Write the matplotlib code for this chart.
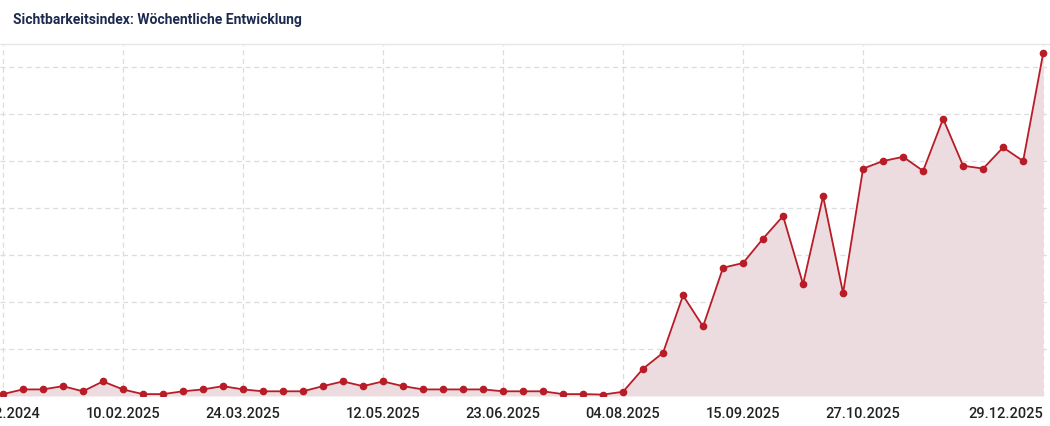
import matplotlib.pyplot as plt
import matplotlib.dates as mdates
import pandas as pd

# weekly visibility index (one gridline = 1 unit)
weeks = pd.date_range("2024-12-30", periods=53, freq="7D")
values = [0.04, 0.14, 0.14, 0.21, 0.10, 0.31, 0.14, 0.04, 0.04, 0.10,
          0.14, 0.21, 0.14, 0.10, 0.10, 0.10, 0.21, 0.31, 0.21, 0.31,
          0.21, 0.14, 0.14, 0.14, 0.14, 0.10, 0.10, 0.10, 0.04, 0.04,
          0.03, 0.09, 0.58, 0.92, 2.14, 1.48, 2.73, 2.83, 3.35, 3.83,
          2.38, 4.25, 2.19, 4.84, 5.00, 5.09, 4.79, 5.90, 4.90, 4.84,
          5.29, 5.00, 7.29]
tick_dates = pd.to_datetime(["2024-12-30", "2025-02-10", "2025-03-24", "2025-05-12",
                             "2025-06-23", "2025-08-04", "2025-09-15", "2025-10-27",
                             "2025-12-29"])

fig = plt.figure(figsize=(10.5, 4.26), dpi=100)
fig.text(13 / 1050, 1 - 20 / 426, "Sichtbarkeitsindex: Wöchentliche Entwicklung",
         fontsize=10, fontweight="bold", color="#1b2a4e", va="center", family="Roboto")
fig.add_artist(plt.Line2D([0, 1], [1 - 44 / 426] * 2, color="#e6e6e6", lw=1))

ax = fig.add_axes([0, 1 - 396 / 426, 1, 351 / 426])
line_col = "#b71c27"
ax.fill_between(weeks, values, 0, color="#ecdcdf", lw=0)
ax.plot(weeks, values, color=line_col, lw=1.3, marker="o", ms=4.5, zorder=3)

day = pd.Timedelta(days=1)
ax.set_xlim(weeks[0] - 1 * day, weeks[-1] + 2.4 * day)
ax.set_ylim(0, 7.47)
ax.set_yticks(range(1, 8))
ax.set_xticks(tick_dates)
ax.xaxis.set_major_formatter(mdates.DateFormatter("%d.%m.%Y"))
ax.grid(True, color="#dcdcdc", ls=(0, (4, 3)), lw=0.9)
ax.set_axisbelow(True)
ax.tick_params(length=0, labelleft=False, labelsize=10.5, pad=8, colors="#222222")
for lab in ax.get_xticklabels():
    lab.set_family("Roboto")
    lab.set_fontweight("medium")
ax.get_xticklabels()[-1].set_ha("right")
for s in ax.spines.values():
    s.set_visible(False)

fig.savefig("out.png", dpi=100)
